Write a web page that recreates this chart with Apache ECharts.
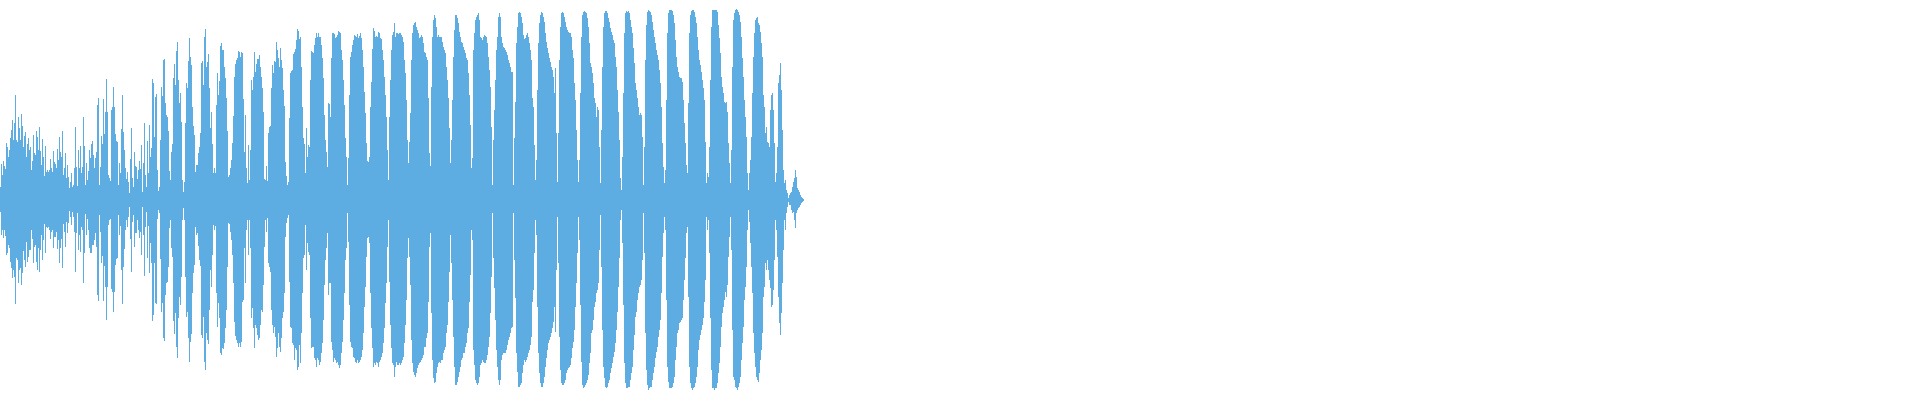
<!DOCTYPE html>
<html>
<head>
<meta charset="utf-8">
<title>waveform</title>
<script src="https://cdn.jsdelivr.net/npm/echarts@6/dist/echarts.min.js"></script>
<style>
  html, body { margin: 0; padding: 0; background: #ffffff; }
  #panel { width: 1920px; height: 400px; }
</style>
</head>
<body>
<div id="panel"></div>
<script>
// peak levels per column (full scale = 200)
const FULL_SCALE = 200;
const TOTAL_COLUMNS = 1920;

const peakMax = [
  13,36,25,39,34,31,57,53,43,50, 62,70,80,60,77,105,60,58,83,72, 60,86,74,53,64,68,43,56,62,50, 53,30,39,65,47,45,69,63,50,73,
  49,35,61,43,24,54,28,30,28,30, 41,32,28,49,38,36,32,51,40,63, 48,43,69,25,32,47,22,35,23,12, 18,27,13,15,32,73,33,14,50,32,
  54,27,33,83,54,15,37,20,29,50, 42,56,59,45,32,42,48,95,102,15,
  33,64,56,101,66,88,121,88,25,22, 19,90,93,113,93,66,59,58,15,37, 27,71,105,68,50,32,21,28,18,7, 41,72,22,13,48,34,33,21,30,39,
  31,55,8,37,77,25,13,59,27,75, 43,52,121,117,63,103,106,30,9,13, 60,113,104,140,141,97,85,83,69,29, 20,48,56,122,136,115,149,158,120,97,
  107,78,20,8,18,77,117,112,139,162, 143,135,93,74,65,28,35,35,47,53,
  67,137,139,115,163,171,133,138,146,112, 72,88,56,27,32,27,95,127,105,119, 154,157,150,150,133,122,102,69,23,25, 32,40,57,84,123,136,140,142,149,148,
  143,148,147,101,48,85,32,17,55,20, 50,120,110,123,148,128,136,141,141,145, 133,123,112,88,21,20,34,19,67,73, 74,112,135,127,139,138,158,150,142,133,
  152,140,132,110,94,38,24,15,18,82, 127,129,130,146,148,151,160,171,169,161,
  163,133,93,62,56,27,72,43,55,53, 120,149,148,147,155,162,167,163,167,163, 163,155,142,122,85,60,48,33,97,96, 83,142,167,167,166,162,163,165,169,168,
  167,150,140,120,95,62,43,15,42,105, 143,148,155,160,165,164,163,166,162,164, 167,162,150,133,108,87,57,39,38,43, 93,118,151,172,169,163,164,163,168,167,
  162,161,150,140,123,105,83,50,20,83, 120,150,165,168,177,163,167,167,166,167,
  167,165,163,158,140,127,100,60,37,58, 87,140,167,175,177,178,173,170,167,162, 163,165,163,157,148,147,143,140,102,47, 34,113,163,180,185,182,173,163,165,163,
  163,163,158,153,150,147,133,120,102,72, 37,60,100,143,170,185,185,182,177,168, 163,158,157,153,150,147,142,140,127,105, 75,32,42,150,167,180,183,185,187,180,
  163,162,160,163,165,164,163,157,143,130, 113,73,15,60,90,120,150,163,183,187,
  183,163,157,153,152,150,148,145,140,137, 133,128,128,15,62,98,157,173,187,188, 187,183,177,165,161,162,165,167,163,157, 150,140,102,93,55,20,40,110,157,177,
  185,188,187,183,178,167,158,152,147,142, 138,133,130,123,107,132,67,18,67,140, 173,187,188,187,183,178,173,170,168,167, 167,163,150,142,117,100,70,40,18,40,
  107,163,185,188,189,188,187,182,173,157, 137,133,127,117,102,97,83,93,90,53,
  17,70,133,173,187,189,189,187,182,178, 172,168,165,160,157,143,133,110,88,60, 22,10,43,107,167,187,189,188,189,187, 180,173,167,152,137,117,110,102,93,85,
  87,85,63,15,53,140,175,188,190,189, 188,185,178,170,163,157,150,145,140,130, 117,93,57,33,17,30,100,167,187,190, 190,190,189,185,177,160,143,133,128,123,
  122,122,118,100,77,57,35,27,97,167, 185,189,190,190,188,183,177,163,150,140,
  135,128,120,112,100,58,17,27,23,53, 120,173,190,190,190,190,190,188,175,162, 147,123,113,107,98,97,98,88,57,37, 17,50,133,180,187,190,191,190,188,185,
  178,163,142,123,100,83,63,27,10,27, 40,63,107,143,167,180,182,183,177,175, 168,157,143,105,93,67,73,58,57,53, 90,105,107,90,57,18,27,53,117,125,
  137,110,70,30,17,20,10,7,2,5, 7,8,13,18,22,30,23,12,10,8, 5,3,2,1
];

const peakMin = [
  -12,-35,-30,-38,-30,-36,-55,-53,-45,-48, -62,-68,-78,-70,-77,-104,-58,-60,-83,-70, -68,-85,-73,-51,-60,-67,-42,-62,-57,-50, -50,-30,-39,-63,-47,-45,-62,-70,-48,-72,
  -50,-35,-60,-40,-24,-53,-27,-28,-27,-30, -39,-32,-30,-48,-37,-37,-32,-49,-40,-63, -48,-39,-68,-24,-32,-47,-22,-33,-23,-11, -17,-25,-12,-17,-32,-72,-33,-13,-50,-35,
  -52,-27,-30,-83,-53,-14,-35,-19,-30,-48, -53,-53,-45,-45,-40,-33,-47,-95,-101,-15,
  -32,-63,-56,-101,-66,-87,-120,-87,-25,-20, -19,-89,-92,-112,-92,-65,-59,-58,-15,-35, -26,-70,-104,-67,-49,-30,-20,-27,-17,-7, -39,-72,-22,-15,-47,-33,-33,-20,-30,-38,
  -32,-55,-7,-35,-76,-27,-12,-58,-26,-73, -43,-63,-121,-115,-63,-103,-104,-19,-10,-13, -59,-112,-103,-138,-141,-95,-83,-82,-67,-28, -20,-48,-57,-121,-134,-113,-147,-158,-118,-97,
  -105,-77,-20,-8,-20,-77,-117,-112,-138,-162, -142,-134,-93,-73,-65,-27,-35,-33,-46,-60,
  -66,-135,-138,-117,-162,-170,-133,-140,-144,-110, -70,-87,-55,-25,-30,-26,-93,-127,-103,-118, -153,-155,-148,-149,-143,-128,-110,-67,-23,-24, -32,-40,-55,-83,-122,-136,-140,-143,-147,-143,
  -147,-142,-102,-100,-48,-83,-30,-20,-55,-20, -48,-118,-108,-128,-148,-125,-128,-135,-140,-138, -125,-110,-112,-85,-47,-20,-32,-18,-63,-67, -72,-110,-125,-133,-127,-137,-157,-148,-133,-147,
  -152,-138,-118,-112,-93,-37,-23,-18,-15,-82, -127,-128,-143,-145,-160,-148,-150,-170,-167,-145,
  -163,-133,-93,-58,-55,-25,-70,-43,-52,-55, -118,-148,-147,-147,-158,-160,-167,-158,-160,-165, -162,-153,-143,-120,-85,-60,-48,-33,-95,-83, -83,-142,-150,-162,-158,-160,-163,-162,-165,-168,
  -165,-153,-142,-120,-93,-60,-48,-13,-42,-105, -142,-147,-148,-157,-158,-162,-163,-160,-163,-162, -160,-157,-150,-133,-107,-87,-57,-38,-37,-43, -93,-128,-148,-167,-163,-165,-162,-163,-167,-162,
  -160,-157,-153,-143,-128,-103,-83,-47,-20,-82, -125,-148,-163,-165,-177,-167,-162,-165,-165,-163,
  -165,-163,-160,-157,-143,-125,-100,-58,-38,-57, -85,-140,-163,-172,-175,-177,-173,-168,-165,-163, -162,-160,-158,-155,-147,-147,-138,-133,-102,-47, -33,-113,-160,-178,-183,-182,-173,-167,-163,-162,
  -163,-160,-160,-153,-150,-147,-133,-125,-102,-72, -35,-63,-100,-137,-167,-185,-185,-182,-177,-172, -167,-160,-158,-153,-153,-147,-143,-133,-128,-102, -75,-30,-40,-150,-165,-180,-183,-185,-183,-177,
  -165,-163,-160,-162,-163,-163,-160,-155,-147,-137, -113,-77,-13,-58,-88,-120,-150,-167,-180,-185,
  -180,-160,-155,-153,-153,-153,-150,-145,-140,-137, -133,-128,-127,-13,-60,-98,-153,-172,-187,-187, -185,-183,-173,-165,-160,-162,-160,-157,-153,-150, -145,-137,-102,-90,-53,-20,-35,-107,-153,-173,
  -183,-187,-187,-183,-177,-167,-158,-150,-143,-140, -137,-133,-128,-122,-107,-132,-70,-17,-63,-137, -170,-183,-185,-185,-183,-180,-173,-170,-168,-167, -165,-158,-148,-142,-130,-107,-83,-53,-17,-40,
  -105,-162,-185,-188,-187,-185,-183,-180,-175,-163, -153,-133,-130,-120,-107,-102,-93,-90,-83,-50,
  -15,-67,-130,-167,-178,-187,-188,-187,-183,-180, -173,-168,-163,-157,-152,-143,-130,-112,-87,-58, -20,-10,-43,-105,-163,-183,-188,-188,-187,-187, -180,-173,-167,-150,-135,-117,-112,-100,-93,-87,
  -85,-80,-60,-13,-53,-133,-170,-185,-190,-188, -187,-187,-180,-173,-167,-158,-152,-147,-137,-130, -120,-93,-57,-33,-17,-30,-100,-167,-182,-188, -188,-188,-187,-183,-177,-160,-147,-133,-130,-123,
  -122,-120,-118,-100,-80,-58,-33,-27,-97,-167, -183,-188,-190,-188,-187,-183,-177,-167,-150,-140,
  -135,-130,-125,-118,-102,-80,-17,-30,-20,-53, -118,-170,-188,-188,-190,-188,-188,-183,-173,-163, -147,-127,-113,-107,-100,-92,-97,-85,-57,-37, -17,-50,-130,-177,-180,-187,-188,-190,-187,-183,
  -177,-160,-143,-127,-100,-87,-67,-30,-10,-22, -43,-67,-93,-133,-153,-167,-177,-180,-182,-173, -160,-150,-133,-97,-87,-63,-70,-60,-70,-80, -88,-107,-105,-90,-60,-20,-30,-57,-97,-123,
  -135,-113,-83,-50,-20,-30,-13,-7,-2,-5, -5,-10,-13,-12,-20,-28,-13,-10,-8,-7, -5,-3,-2,-1
];

const WAVE_COLOR = '#5dade2';

// one category per column
const columns = [];
for (let i = 0; i < TOTAL_COLUMNS; i++) columns.push(i);

const myChart = echarts.init(document.getElementById('panel'), null, { renderer: 'canvas' });

const option = {
  animation: false,
  backgroundColor: '#ffffff',
  grid: {
    left: 0,
    right: 0,
    top: 0,
    bottom: 0,
  },
  xAxis: {
    type: 'category',
    data: columns,
    show: false,
    boundaryGap: true,
  },
  yAxis: {
    type: 'value',
    min: -FULL_SCALE,
    max: FULL_SCALE,
    show: false,
  },
  series: [
    {
      name: 'max',
      type: 'bar',
      data: peakMax,
      barWidth: 1,
      barGap: '-100%',
      silent: true,
      itemStyle: { color: WAVE_COLOR },
    },
    {
      name: 'min',
      type: 'bar',
      data: peakMin,
      barWidth: 1,
      barGap: '-100%',
      silent: true,
      itemStyle: { color: WAVE_COLOR },
    },
  ],
};

myChart.setOption(option);
</script>
</body>
</html>
